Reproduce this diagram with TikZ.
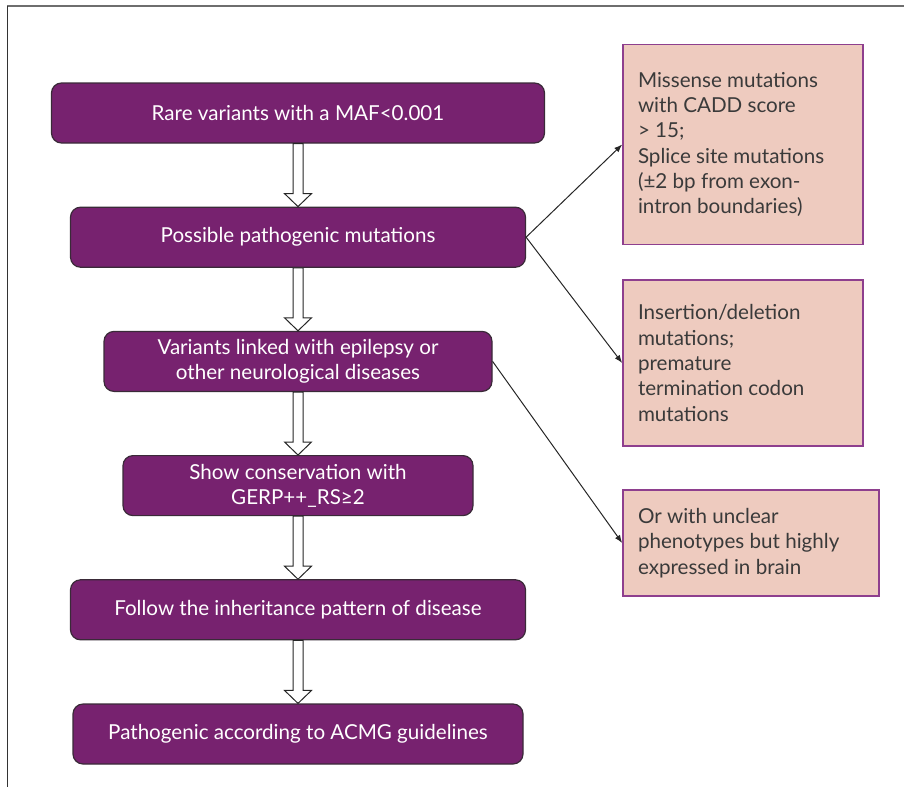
\documentclass[tikz,border=0pt]{standalone}
\usepackage{fontspec}
\setmainfont{Lato}
\usepackage{tikz}
\usetikzlibrary{arrows.meta,positioning,calc}
\definecolor{plum}{HTML}{77226F}
\definecolor{plumedge}{HTML}{3A2A38}
\definecolor{blush}{HTML}{EECBBF}
\definecolor{orchid}{HTML}{8E3F8E}
\definecolor{framegray}{HTML}{6E6E6E}
\definecolor{inkgray}{HTML}{3A3A3A}

\begin{document}
\begin{tikzpicture}[x=0.5pt,y=-0.5pt,
  every node/.style={font=\fontsize{10.3}{12.65}\selectfont},
  stepbox/.style={draw=plumedge,fill=plum,text=white,rounded corners=5pt,
                  minimum height=30pt,align=center,line width=0.6pt},
  critbox/.style={draw=orchid,fill=blush,text=inkgray,text width=105pt,
                  align=flush left,inner xsep=7.5pt,line width=0.8pt},
  harr/.style={draw=black!85,fill=white,line width=0.5pt},
  arr/.style={-{Latex[length=4pt,width=3pt]},line width=0.5pt,black!85}
]
\useasboundingbox (0,0) rectangle (904,787);

% Frame (top and left rule only)
\draw[framegray,line width=1pt] (7,6) -- (904,6);
\draw[black!80,line width=0.5pt] (7,6) -- (7,787);

% Filtering steps
\node[stepbox,minimum width=246.5pt] (S1) at (298,113)
  {Rare variants with a MAF<0.001};
\node[stepbox,minimum width=227.5pt,below=31.5pt of S1] (S2)
  {Possible pathogenic mutations};
\node[stepbox,minimum width=194pt,below=31.5pt of S2] (S3)
  {Variants linked with epilepsy or\\other neurological diseases};
\node[stepbox,minimum width=175pt,below=31.5pt of S3] (S4)
  {Show conservation with\\GERP++\_RS≥2};
\node[stepbox,minimum width=227.5pt,below=31.5pt of S4] (S5)
  {Follow the inheritance pattern of disease};
\node[stepbox,minimum width=225pt,below=31.5pt of S5] (S6)
  {Pathogenic according to ACMG guidelines};

% Criteria boxes
\node[critbox,minimum height=100pt] (C1) at (743,144.5) {
  Missense mutations\\with CADD score\\> 15;\\Splice site mutations\\
  (±2 bp from exon-\\intron boundaries)};
\node[critbox,minimum height=83pt] (C2) at (743,363) {
  Insertion/deletion\\mutations;\\premature\\termination codon\\mutations};
\node[critbox,text width=113pt,minimum height=53pt] (C3) at (751,543) {
  Or with unclear\\phenotypes but highly\\expressed in brain};

% Hollow arrows down the chain
\foreach \a/\b in {S1/S2,S2/S3,S3/S4,S4/S5,S5/S6}
  \draw[harr] ($(\a.south)+(-2.5pt,0)$) -- ($(\b.north)+(-2.5pt,6.5pt)$)
    -- ++(-4.25pt,0) -- (\b.north) -- ++(6.75pt,6.5pt) -- ++(-4.25pt,0)
    -- ($(\a.south)+(2.5pt,0)$) -- cycle;

% Side links
\draw[arr] (S2.east) -- (C1.west);
\draw[arr] (S2.east) -- (C2.west);
\draw[arr] (S3.east) -- (C3.west);

\end{tikzpicture}
\end{document}
